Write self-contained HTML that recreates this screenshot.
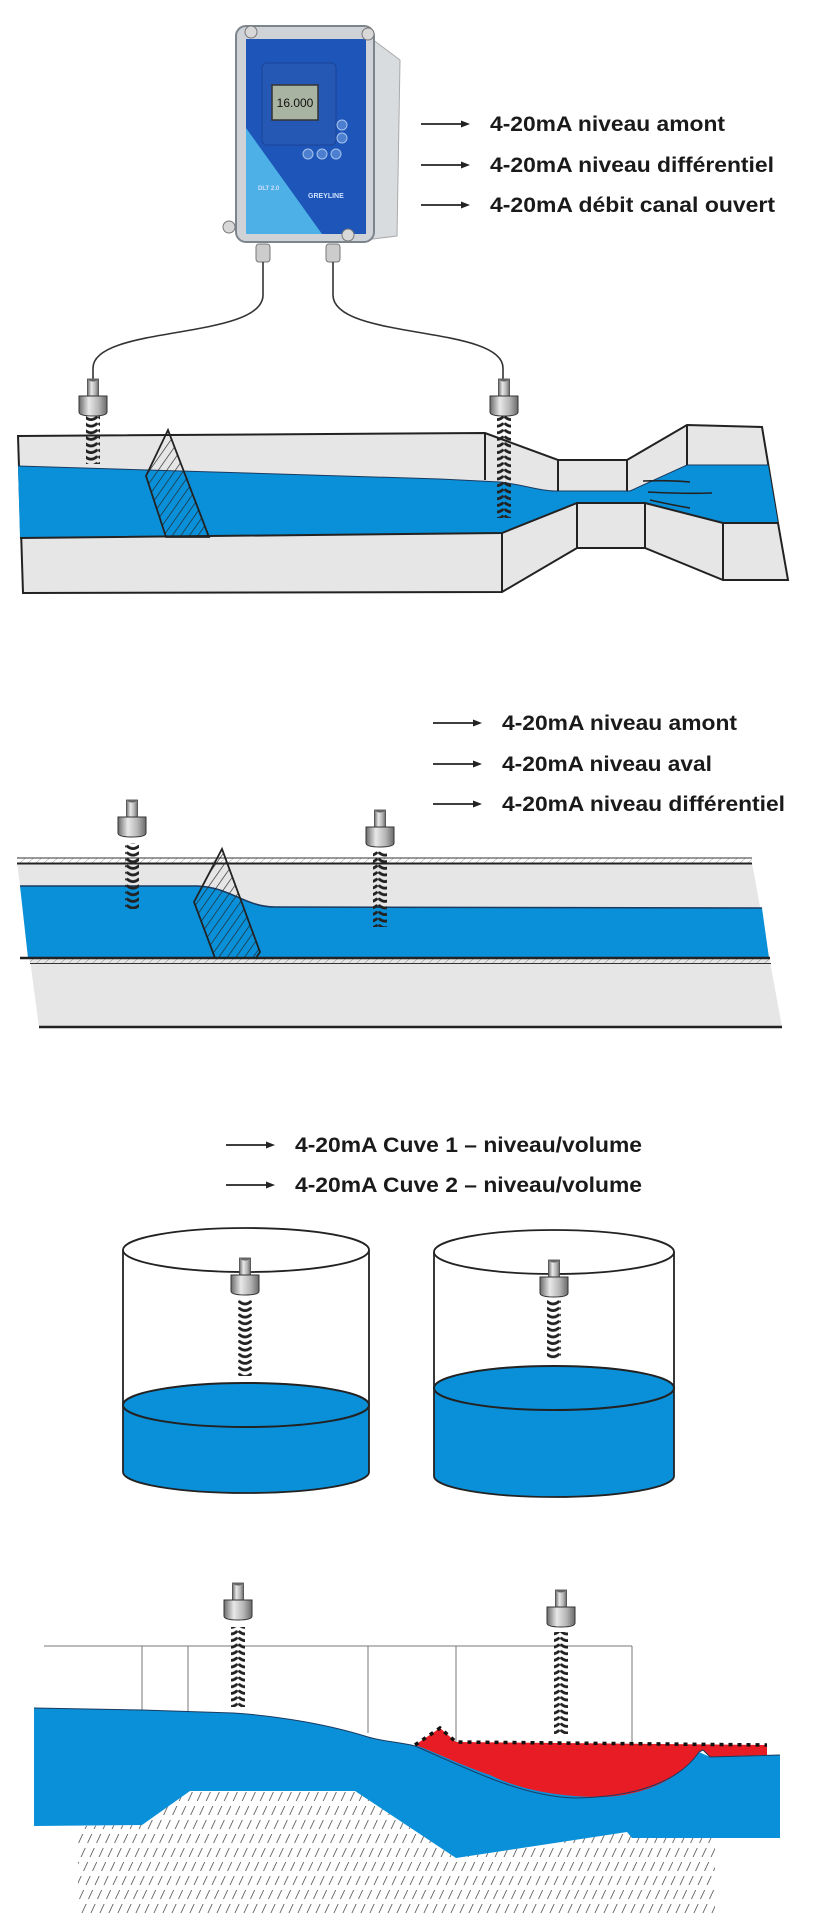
<!DOCTYPE html>
<html><head><meta charset="utf-8"><style>
html,body{margin:0;padding:0;background:#fff;}
svg{display:block;}
text{font-family:"Liberation Sans Narrow","Liberation Sans",sans-serif;font-weight:bold;fill:#1a1a1a;}
</style></head><body>
<svg width="822" height="1920" viewBox="0 0 822 1920" xmlns="http://www.w3.org/2000/svg">
<defs>
<pattern id="wave" patternUnits="userSpaceOnUse" width="14" height="6.6">
<path d="M1.5,1.6 Q7,6 12.5,1.6" stroke="#222" stroke-width="2.8" fill="none" stroke-linecap="round"/>
</pattern>
<pattern id="hatch" patternUnits="userSpaceOnUse" width="7" height="7" patternTransform="rotate(35)">
<line x1="0" y1="0" x2="0" y2="7" stroke="#222" stroke-width="1.3"/>
</pattern>
<pattern id="rail" patternUnits="userSpaceOnUse" width="8" height="6" patternTransform="skewX(-50)">
<line x1="0" y1="0" x2="0" y2="6" stroke="#444" stroke-width="0.8"/>
</pattern>
<pattern id="ground" patternUnits="userSpaceOnUse" width="9" height="14" patternTransform="skewX(-25)">
<line x1="2" y1="0" x2="2" y2="9" stroke="#555" stroke-width="0.9"/>
</pattern>
<linearGradient id="metal" x1="0" x2="1" y1="0" y2="0">
<stop offset="0" stop-color="#6a6a6a"/><stop offset="0.35" stop-color="#e8e8e8"/><stop offset="0.7" stop-color="#b5b5b5"/><stop offset="1" stop-color="#6a6a6a"/>
</linearGradient>
<g id="sensor">
<rect x="-5.5" y="0" width="11" height="17" fill="url(#metal)" stroke="#444" stroke-width="0.8"/>
<ellipse cx="0" cy="1" rx="4" ry="1.5" fill="#666"/>
<path d="M-14,17 h28 v16 q0,4 -14,4 q-14,0 -14,-4z" fill="url(#metal)" stroke="#333" stroke-width="1"/>
</g>
</defs>

<!-- ===== SECTION 1 ===== -->
<path d="M368,36 L400,60 L397,236 L364,240 Z" fill="#d9dcdf" stroke="#aaa"/>
<rect x="236" y="26" width="138" height="216" rx="10" fill="#cfd3d8" stroke="#7d858c" stroke-width="2"/>
<rect x="246" y="39" width="120" height="195" fill="#1d55b8"/>
<path d="M246,128 L246,234 L322,234 Z" fill="#4db0e6"/>
<rect x="262" y="63" width="74" height="82" rx="5" fill="#2558b5" stroke="#1a4497"/>
<rect x="272" y="85" width="46" height="35" fill="#a9b3a1" stroke="#333" stroke-width="1.5"/>
<text x="295" y="107" font-size="12" text-anchor="middle" style="font-family:'Liberation Sans',sans-serif;font-weight:normal;fill:#111">16.000</text>
<g fill="#4c7fd0" stroke="#a8c4ee" stroke-width="1">
<circle cx="342" cy="125" r="5"/><circle cx="342" cy="138" r="5"/>
<circle cx="308" cy="154" r="5"/><circle cx="322" cy="154" r="5"/><circle cx="336" cy="154" r="5"/>
</g>
<text x="308" y="198" font-size="7" style="fill:#cfe0ff;font-family:'Liberation Sans',sans-serif">GREYLINE</text>
<text x="258" y="190" font-size="6" style="fill:#cfe0ff;font-family:'Liberation Sans',sans-serif">DLT 2.0</text>
<g fill="#d8d8d8" stroke="#777"><circle cx="251" cy="32" r="6"/><circle cx="368" cy="34" r="6"/><circle cx="229" cy="227" r="6"/><circle cx="348" cy="235" r="6"/></g>
<rect x="256" y="244" width="14" height="18" rx="3" fill="#ccc" stroke="#777"/>
<rect x="326" y="244" width="14" height="18" rx="3" fill="#ccc" stroke="#777"/>
<path d="M263,262 L263,295 C263,340 93,325 93,368 L93,379" stroke="#333" stroke-width="1.6" fill="none"/>
<path d="M333,262 L333,295 C333,340 503,325 503,368 L503,379" stroke="#333" stroke-width="1.6" fill="none"/>
<g stroke="#222" stroke-width="1.8"><line x1="421" y1="124" x2="462" y2="124"/><line x1="421" y1="165" x2="462" y2="165"/><line x1="421" y1="205" x2="462" y2="205"/></g>
<g fill="#222"><path d="M470,124 l-9,-3.5 v7z"/><path d="M470,165 l-9,-3.5 v7z"/><path d="M470,205 l-9,-3.5 v7z"/></g>
<text x="490" y="131" font-size="21" textLength="235" lengthAdjust="spacingAndGlyphs">4-20mA niveau amont</text>
<text x="490" y="172" font-size="21" textLength="284" lengthAdjust="spacingAndGlyphs">4-20mA niveau différentiel</text>
<text x="490" y="212" font-size="21" textLength="285" lengthAdjust="spacingAndGlyphs">4-20mA débit canal ouvert</text>

<path d="M18,436 L485,433 L558,460 L627,460 L687,425 L762,427 L778,523 L788,580 L723,580 L645,548 L577,548 L502,592 L23,593 Z" fill="#e6e6e6" stroke="#222" stroke-width="2"/>
<path d="M18,466 L440,479 L500,482 C520,484 540,491 555,491 L630,491 L687,465 L768,465 L778,523 L723,523 L647,503 L577,503 L502,533 L20,538 Z" fill="#0a90d8"/>
<path d="M18,466 L440,479 L500,482 C520,484 540,491 555,491 L630,491 L687,465 L768,465" stroke="#1a3a60" stroke-width="1" fill="none"/>
<g stroke="#222" stroke-width="2" fill="none">
<path d="M20,538 L502,533 L577,503 L645,503 L723,523 L778,523"/>
<line x1="485" y1="433" x2="485" y2="480"/>
<line x1="558" y1="460" x2="558" y2="491"/>
<line x1="627" y1="460" x2="627" y2="491"/>
<line x1="687" y1="425" x2="687" y2="465"/>
<line x1="502" y1="533" x2="502" y2="592"/>
<line x1="577" y1="503" x2="577" y2="548"/>
<line x1="645" y1="503" x2="645" y2="548"/>
<line x1="723" y1="523" x2="723" y2="580"/>
</g>
<g stroke="#222" stroke-width="1.6" fill="none">
<path d="M643,481 Q670,480 690,482"/><path d="M648,492 Q685,494 712,493"/><path d="M650,500 Q672,505 690,508"/>
</g>
<path d="M146,476 L168,430 L209,537 L166,537 Z" fill="url(#hatch)" stroke="#222" stroke-width="1.8"/>
<use href="#sensor" x="93" y="379"/>
<rect x="86" y="416" width="14" height="48" fill="url(#wave)"/>
<use href="#sensor" x="504" y="379"/>
<rect x="497" y="416" width="14" height="102" fill="url(#wave)"/>

<!-- ===== SECTION 2 ===== -->
<g stroke="#222" stroke-width="1.8"><line x1="433" y1="723" x2="474" y2="723"/><line x1="433" y1="764" x2="474" y2="764"/><line x1="433" y1="804" x2="474" y2="804"/></g>
<g fill="#222"><path d="M482,723 l-9,-3.5 v7z"/><path d="M482,764 l-9,-3.5 v7z"/><path d="M482,804 l-9,-3.5 v7z"/></g>
<text x="502" y="730" font-size="21" textLength="235" lengthAdjust="spacingAndGlyphs">4-20mA niveau amont</text>
<text x="502" y="771" font-size="21" textLength="210" lengthAdjust="spacingAndGlyphs">4-20mA niveau aval</text>
<text x="502" y="811" font-size="21" textLength="283" lengthAdjust="spacingAndGlyphs">4-20mA niveau différentiel</text>

<rect x="17" y="858" width="735" height="5" fill="url(#rail)"/>
<line x1="17" y1="858" x2="752" y2="858" stroke="#333" stroke-width="1"/>
<path d="M17,863 L752,863 L782,1027 L39,1027 Z" fill="#e6e6e6"/>
<line x1="17" y1="863.5" x2="752" y2="863.5" stroke="#222" stroke-width="2"/>
<path d="M20,886 L197,886 C230,887 245,907 275,907 L762,908 L769,958 L28,958 Z" fill="#0a90d8"/>
<path d="M20,886 L197,886 C230,887 245,907 275,907 L762,908" stroke="#1a3a60" stroke-width="1.5" fill="none"/>
<line x1="20" y1="958" x2="770" y2="958" stroke="#222" stroke-width="2.5"/>
<rect x="30" y="959" width="741" height="4" fill="url(#rail)"/>
<line x1="30" y1="963.5" x2="771" y2="963.5" stroke="#333" stroke-width="1"/>
<line x1="39" y1="1027" x2="782" y2="1027" stroke="#222" stroke-width="2.5"/>
<path d="M194,902 L222,849 L260,952 L256,958 L215,958 Z" fill="url(#hatch)" stroke="#222" stroke-width="1.8"/>
<use href="#sensor" x="132" y="800"/>
<rect x="125" y="843" width="14" height="66" fill="url(#wave)"/>
<use href="#sensor" x="380" y="810"/>
<rect x="373" y="851" width="14" height="76" fill="url(#wave)"/>

<!-- ===== SECTION 3 ===== -->
<g stroke="#222" stroke-width="1.8"><line x1="226" y1="1145" x2="266" y2="1145"/><line x1="226" y1="1185" x2="266" y2="1185"/></g>
<g fill="#222"><path d="M275,1145 l-9,-3.5 v7z"/><path d="M275,1185 l-9,-3.5 v7z"/></g>
<text x="295" y="1152" font-size="21" textLength="347" lengthAdjust="spacingAndGlyphs">4-20mA Cuve 1 – niveau/volume</text>
<text x="295" y="1192" font-size="21" textLength="347" lengthAdjust="spacingAndGlyphs">4-20mA Cuve 2 – niveau/volume</text>

<path d="M123,1405 L123,1472 A123,21 0 0 0 369,1472 L369,1405 Z" fill="#0a90d8"/>
<ellipse cx="246" cy="1405" rx="123" ry="22" fill="#0a90d8" stroke="#222" stroke-width="2"/>
<ellipse cx="246" cy="1250" rx="123" ry="22" fill="none" stroke="#222" stroke-width="1.8"/>
<path d="M123,1250 L123,1472 A123,21 0 0 0 369,1472 L369,1250" fill="none" stroke="#222" stroke-width="1.8"/>
<use href="#sensor" x="245" y="1258"/>
<rect x="238" y="1300" width="14" height="76" fill="url(#wave)"/>
<path d="M434,1388 L434,1476 A120,21 0 0 0 674,1476 L674,1388 Z" fill="#0a90d8"/>
<ellipse cx="554" cy="1388" rx="120" ry="22" fill="#0a90d8" stroke="#222" stroke-width="2"/>
<ellipse cx="554" cy="1252" rx="120" ry="22" fill="none" stroke="#222" stroke-width="1.8"/>
<path d="M434,1252 L434,1476 A120,21 0 0 0 674,1476 L674,1252" fill="none" stroke="#222" stroke-width="1.8"/>
<use href="#sensor" x="554" y="1260"/>
<rect x="547" y="1300" width="14" height="59" fill="url(#wave)"/>

<!-- ===== SECTION 4 ===== -->
<g stroke="#777" stroke-width="1" fill="none">
<line x1="44" y1="1646" x2="632" y2="1646"/>
<line x1="142" y1="1646" x2="142" y2="1710"/>
<line x1="188" y1="1646" x2="188" y2="1711"/>
<line x1="368" y1="1646" x2="368" y2="1733"/>
<line x1="456" y1="1646" x2="456" y2="1742"/>
<line x1="632" y1="1646" x2="632" y2="1745"/>
</g>
<path d="M78,1826 L142,1825 L190,1791 L355,1791 L456,1858 L627,1832 L632,1838 L715,1838 L715,1915 L78,1915 Z" fill="url(#ground)"/>
<path d="M34,1708 L142,1710 L233,1713 C280,1716 330,1725 368,1737 C385,1742 400,1742 415,1746 L699,1752 L710,1757 L780,1755 L780,1838 L632,1838 L627,1832 L456,1858 L355,1791 L190,1791 L142,1825 L34,1826 Z" fill="#0a90d8"/>
<path d="M415,1745 L440,1728 L456,1742 L767,1745 L767,1755 L710,1757 L703,1750 L699,1752 C680,1780 640,1797 600,1797 C560,1797 520,1790 490,1775 C460,1765 435,1752 415,1745 Z" fill="#e81c24"/>
<path d="M34,1708 L142,1710 L233,1713 C280,1716 330,1725 368,1737 C385,1742 400,1742 415,1746 C460,1765 520,1797 575,1798 C640,1797 680,1780 699,1752 L703,1750 L710,1757 L780,1755" fill="none" stroke="#1a3a60" stroke-width="1"/>
<path d="M415,1745 L440,1728 L456,1742 L767,1745" fill="none" stroke="#111" stroke-width="3.5" stroke-dasharray="4,5"/>
<use href="#sensor" x="238" y="1583"/>
<rect x="231" y="1627" width="14" height="80" fill="url(#wave)"/>
<use href="#sensor" x="561" y="1590"/>
<rect x="554" y="1632" width="14" height="102" fill="url(#wave)"/>
</svg>
</body></html>
